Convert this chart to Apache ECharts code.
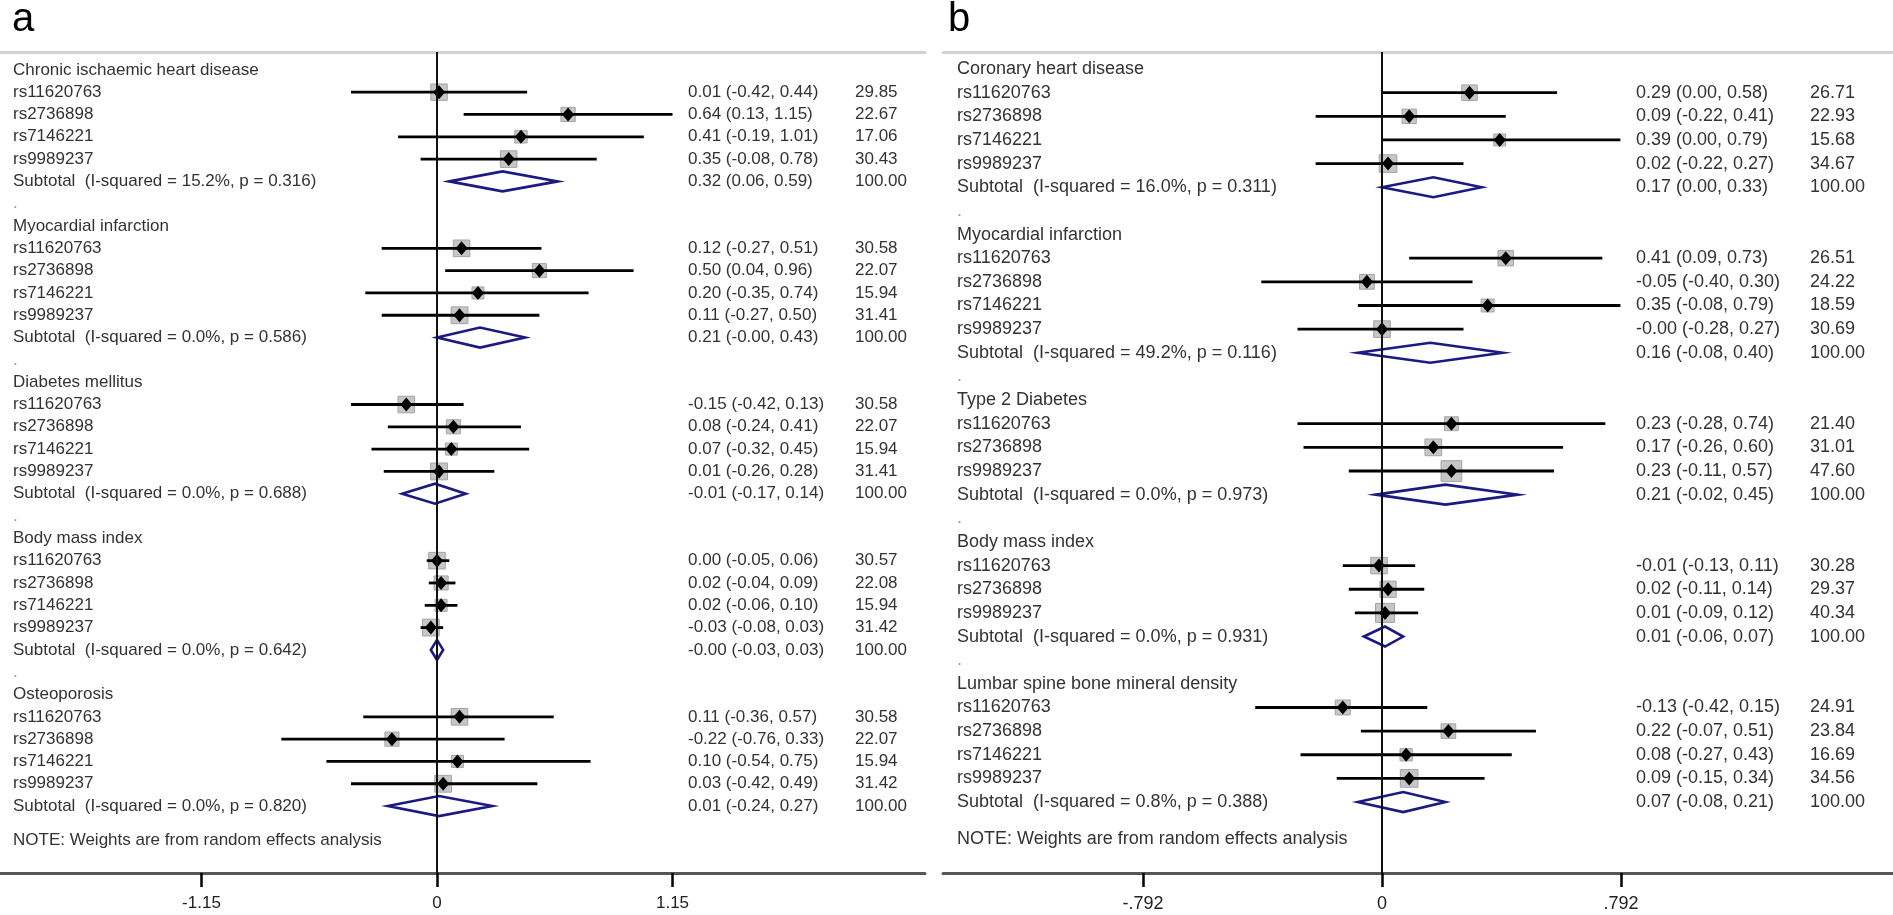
<!DOCTYPE html>
<html><head><meta charset="utf-8">
<script src="https://cdn.jsdelivr.net/npm/echarts@6/dist/echarts.min.js"></script>
<style>html,body{margin:0;padding:0;background:#fff}#c{width:1893px;height:915px}</style>
</head><body><div id="c"></div>
<script>
// ---------- Panel a ----------
const groupsA = ['Chronic ischaemic heart disease','Myocardial infarction','Diabetes mellitus','Body mass index','Osteoporosis'];
const snps4 = ['rs11620763','rs2736898','rs7146221','rs9989237'];
const snps3 = ['rs11620763','rs2736898','rs9989237'];
const snpsA = [snps4, snps4, snps4, snps4, snps4];
const estA  = [[0.01,0.64,0.41,0.35],[0.12,0.50,0.20,0.11],[-0.15,0.08,0.07,0.01],[0.00,0.02,0.02,-0.03],[0.11,-0.22,0.10,0.03]];
const lowA  = [[-0.42,0.13,-0.19,-0.08],[-0.27,0.04,-0.35,-0.27],[-0.42,-0.24,-0.32,-0.26],[-0.05,-0.04,-0.06,-0.08],[-0.36,-0.76,-0.54,-0.42]];
const highA = [[0.44,1.15,1.01,0.78],[0.51,0.96,0.74,0.50],[0.13,0.41,0.45,0.28],[0.06,0.09,0.10,0.03],[0.57,0.33,0.75,0.49]];
const weightA = [[29.85,22.67,17.06,30.43],[30.58,22.07,15.94,31.41],[30.58,22.07,15.94,31.41],[30.57,22.08,15.94,31.42],[30.58,22.07,15.94,31.42]];
const subEstA  = [0.32,0.21,-0.01,-0,0.01];
const subLowA  = [0.06,-0,-0.17,-0.03,-0.24];
const subHighA = [0.59,0.43,0.14,0.03,0.27];
const isqA = [15.2,0.0,0.0,0.0,0.0];
const pA   = [0.316,0.586,0.688,0.642,0.820];
const ticksA = [-1.15,0,1.15];
const tickLabelsA = ['-1.15','0','1.15'];

// ---------- Panel b ----------
const groupsB = ['Coronary heart disease','Myocardial infarction','Type 2 Diabetes','Body mass index','Lumbar spine bone mineral density'];
const snpsB = [snps4, snps4, snps3, snps3, snps4];
const estB  = [[0.29,0.09,0.39,0.02],[0.41,-0.05,0.35,-0],[0.23,0.17,0.23],[-0.01,0.02,0.01],[-0.13,0.22,0.08,0.09]];
const lowB  = [[0.00,-0.22,0.00,-0.22],[0.09,-0.40,-0.08,-0.28],[-0.28,-0.26,-0.11],[-0.13,-0.11,-0.09],[-0.42,-0.07,-0.27,-0.15]];
const highB = [[0.58,0.41,0.79,0.27],[0.73,0.30,0.79,0.27],[0.74,0.60,0.57],[0.11,0.14,0.12],[0.15,0.51,0.43,0.34]];
const weightB = [[26.71,22.93,15.68,34.67],[26.51,24.22,18.59,30.69],[21.40,31.01,47.60],[30.28,29.37,40.34],[24.91,23.84,16.69,34.56]];
const subEstB  = [0.17,0.16,0.21,0.01,0.07];
const subLowB  = [0.00,-0.08,-0.02,-0.06,-0.08];
const subHighB = [0.33,0.40,0.45,0.07,0.21];
const isqB = [16.0,49.2,0.0,0.0,0.8];
const pB   = [0.311,0.116,0.973,0.931,0.388];
const ticksB = [-0.792,0,0.792];
const tickLabelsB = ['-.792','0','.792'];

const noteText = 'NOTE: Weights are from random effects analysis';

// ---------- helpers ----------
function fmt(v){ return ((v < 0 || Object.is(v,-0)) ? '-' : '') + Math.abs(v).toFixed(2); }
function ciText(e,l,h){ return fmt(e) + ' (' + fmt(l) + ', ' + fmt(h) + ')'; }

function buildRows(groups, snps, est, low, high, w, sE, sL, sH, isq, p){
  const rows = []; let r = 0;
  groups.forEach((g, gi) => {
    rows.push({row:r++, kind:'head', text:g});
    snps[gi].forEach((s, si) => rows.push({row:r++, kind:'study', text:s,
      est:est[gi][si], low:low[gi][si], high:high[gi][si], w:w[gi][si]}));
    rows.push({row:r++, kind:'sub', text:'Subtotal  (I-squared = ' + isq[gi].toFixed(1) + '%, p = ' + p[gi].toFixed(3) + ')',
      est:sE[gi], low:sL[gi], high:sH[gi], w:100});
    if (gi < groups.length - 1) rows.push({row:r++, kind:'blank', text:'.'});
  });
  rows.push({row:r + 0.55, kind:'note', text:noteText});
  return rows;
}

const rowsA = buildRows(groupsA, snpsA, estA, lowA, highA, weightA, subEstA, subLowA, subHighA, isqA, pA);
const rowsB = buildRows(groupsB, snpsB, estB, lowB, highB, weightB, subEstB, subLowB, subHighB, isqB, pB);

const FONT = '"Liberation Sans", Arial, sans-serif';
const TXT = '#333333';

function makeRender(rows, cfg){
  return function(params, api){
    const row = rows[params.dataIndex];
    const cs = params.coordSys;
    const y = api.coord([0, row.row])[1];
    const ch = [];
    const txt = (x, text, color) => ({type:'text', style:{x:x, y:y, text:text, fill:color || TXT,
      fontSize:cfg.fs, fontFamily:FONT, align:'left', verticalAlign:'middle'}});
    ch.push(txt(cs.x + cfg.labelX, row.text, row.kind === 'blank' ? '#9a9a9a' : TXT));
    if (row.kind === 'study' || row.kind === 'sub') {
      const px = api.coord([row.est, row.row])[0];
      const lx = api.coord([row.low, row.row])[0];
      const hx = api.coord([row.high, row.row])[0];
      if (row.kind === 'study') {
        const s = cfg.boxK * Math.sqrt(row.w);
        ch.push({type:'rect', shape:{x:px - s/2, y:y - s/2, width:s, height:s},
          style:{fill:'#c6c6c6', stroke:'#a4a4a4', lineWidth:1}});
        ch.push({type:'line', shape:{x1:lx, y1:y, x2:hx, y2:y}, style:{stroke:'#000', lineWidth:2.8}});
        ch.push({type:'polygon', shape:{points:[[px-6,y],[px,y-7],[px+6,y],[px,y+7]]}, style:{fill:'#000'}});
      } else {
        ch.push({type:'polygon', shape:{points:[[lx,y],[px,y-cfg.dh],[hx,y],[px,y+cfg.dh]]},
          style:{fill:'rgba(0,0,0,0)', stroke:'#1a1a82', lineWidth:2.6}});
      }
      ch.push(txt(cs.x + cfg.estX, ciText(row.est, row.low, row.high)));
      ch.push(txt(cs.x + cfg.wX, row.w.toFixed(2)));
    }
    return {type:'group', children:ch};
  };
}

function tickFmt(ticks, labels){
  return v => { const i = ticks.findIndex(t => Math.abs(t - v) < 1e-6); return i >= 0 ? labels[i] : ''; };
}

function bottomAxis(gi, min, max, ticks, labels, fs){
  return {type:'value', gridIndex:gi, position:'bottom', min:min, max:max,
    axisLine:{show:true, onZero:false, lineStyle:{color:'#575757', width:3}},
    axisTick:{show:true, customValues:ticks, length:14, lineStyle:{color:'#000', width:2.5}},
    axisLabel:{show:true, customValues:ticks, formatter:tickFmt(ticks, labels), margin:22,
      color:'#222', fontSize:fs, fontFamily:FONT},
    splitLine:{show:false}};
}
function topAxis(gi, min, max){
  return {type:'value', gridIndex:gi, position:'top', min:min, max:max,
    axisLine:{show:true, onZero:false, lineStyle:{color:'#d2d2d2', width:3}},
    axisTick:{show:false}, axisLabel:{show:false}, splitLine:{show:false}};
}

// layout: panel a grid x 0..925, zero at 437 (204.8 px/unit); panel b grid x 943..1893, zero at 1382 (301.8 px/unit)
const aMin = -437/204.8, aMax = 488/204.8;
const bMin = -439/301.8, bMax = 511/301.8;

const chart = echarts.init(document.getElementById('c'));
chart.setOption({
  animation:false,
  backgroundColor:'#fff',
  title:[
    {text:'a', left:12, top:0, padding:0, textStyle:{fontSize:40, fontWeight:'normal', color:'#000', fontFamily:FONT}},
    {text:'b', left:948, top:0, padding:0, textStyle:{fontSize:40, fontWeight:'normal', color:'#000', fontFamily:FONT}}
  ],
  grid:[
    {left:0, width:925, top:52, bottom:42},
    {left:943, right:0, top:52, bottom:42}
  ],
  xAxis:[
    bottomAxis(0, aMin, aMax, ticksA, tickLabelsA, 17),
    topAxis(0, aMin, aMax),
    bottomAxis(1, bMin, bMax, ticksB, tickLabelsB, 18),
    topAxis(1, bMin, bMax)
  ],
  yAxis:[
    {type:'value', gridIndex:0, min:-0.8, max:36, inverse:true, show:false},
    {type:'value', gridIndex:1, min:-0.72, max:34, inverse:true, show:false}
  ],
  series:[
    {type:'custom', xAxisIndex:0, yAxisIndex:0, clip:false,
      renderItem:makeRender(rowsA, {fs:17, labelX:13, estX:688, wX:855, boxK:3.0, dh:10}),
      data:rowsA.map(r => [r.est === undefined ? 0 : r.est, r.row]), encode:{x:0, y:1},
      markLine:{silent:true, symbol:'none', label:{show:false}, lineStyle:{color:'#111', width:2, type:'solid'}, data:[{xAxis:0}]}},
    {type:'custom', xAxisIndex:2, yAxisIndex:1, clip:false,
      renderItem:makeRender(rowsB, {fs:18, labelX:14, estX:693, wX:867, boxK:3.0, dh:10}),
      data:rowsB.map(r => [r.est === undefined ? 0 : r.est, r.row]), encode:{x:0, y:1},
      markLine:{silent:true, symbol:'none', label:{show:false}, lineStyle:{color:'#111', width:2, type:'solid'}, data:[{xAxis:0}]}}
  ]
});
</script></body></html>
